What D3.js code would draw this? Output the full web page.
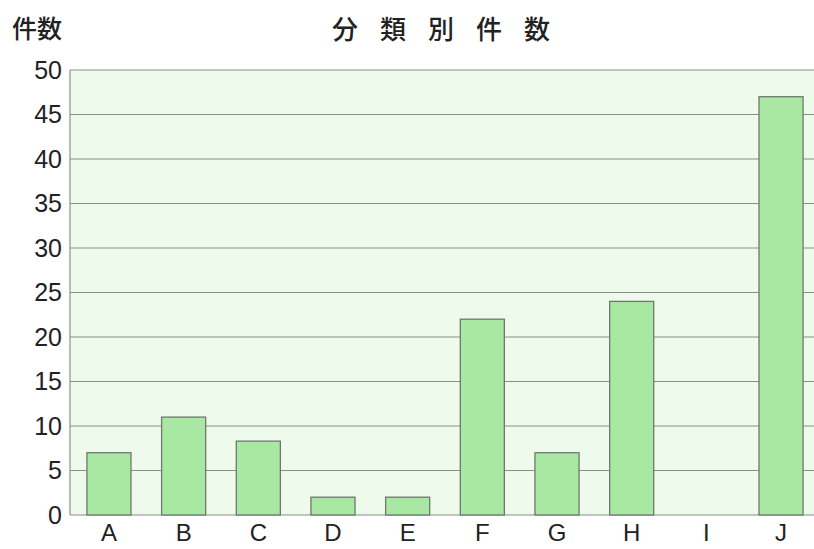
<!DOCTYPE html>
<html>
<head>
<meta charset="utf-8">
<script src="https://cdn.jsdelivr.net/npm/d3@7"></script>
<style>
  body { margin: 0; background: #fff; }
  text { font-family: "Noto Sans CJK JP", "Noto Sans", sans-serif; fill: #222; }
</style>
</head>
<body>
<div id="chart"></div>
<script>
// data
var categories = ["A", "B", "C", "D", "E", "F", "G", "H", "I", "J"];
var counts = [7, 11, 8.3, 2, 2, 22, 7, 24, 0, 47];
var yTicks = [0, 5, 10, 15, 20, 25, 30, 35, 40, 45, 50];

var width = 814, height = 549;
var margin = {top: 70, right: 0, bottom: 34, left: 70};

var svg = d3.select("#chart").append("svg")
      .attr("width", width)
      .attr("height", height);

var xScale = d3.scaleBand()
      .domain(categories)
      .range([72, 818])
      .paddingInner(0.41)
      .paddingOuter(0.2);

var yScale = d3.scaleLinear()
      .domain([0, 50])
      .range([height - margin.bottom, margin.top]);

// plot background
svg.append("rect")
  .attr("x", margin.left)
  .attr("y", yScale(50))
  .attr("width", width - margin.left)
  .attr("height", yScale(0) - yScale(50))
  .attr("fill", "#eefaeb");

// grid lines
svg.append("g").selectAll("line")
  .data(yTicks)
  .enter().append("line")
  .attr("x1", margin.left)
  .attr("x2", width)
  .attr("y1", function(d) { return yScale(d); })
  .attr("y2", function(d) { return yScale(d); })
  .attr("stroke", "#8a8f8a")
  .attr("stroke-width", 1.2);

// left axis line
svg.append("line")
  .attr("x1", margin.left).attr("x2", margin.left)
  .attr("y1", yScale(50)).attr("y2", yScale(0))
  .attr("stroke", "#8a8f8a")
  .attr("stroke-width", 1.2);

// bars
svg.append("g").selectAll("rect")
  .data(categories)
  .enter().append("rect")
  .attr("x", function(d) { return xScale(d); })
  .attr("width", xScale.bandwidth())
  .attr("y", function(d, i) { return yScale(counts[i]); })
  .attr("height", function(d, i) { return yScale(0) - yScale(counts[i]); })
  .attr("fill", "#a9e8a2")
  .attr("stroke", "#6f786f")
  .attr("stroke-width", 1.3)
  .style("display", function(d, i) { return counts[i] > 0 ? null : "none"; });

// y axis
var yAxis = d3.axisLeft(yScale)
      .tickValues(yTicks)
      .tickSize(0)
      .tickPadding(8);

svg.append("g")
  .attr("transform", "translate(" + margin.left + ",0)")
  .call(yAxis)
  .call(function(g) { g.select(".domain").remove(); })
  .selectAll("text")
  .style("font-family", "'Liberation Sans', Arial, sans-serif")
  .style("font-size", "25px")
  .attr("fill", "#222");

// x axis
var xAxis = d3.axisBottom(xScale)
      .tickSize(0)
      .tickPadding(9);

svg.append("g")
  .attr("transform", "translate(0," + yScale(0) + ")")
  .call(xAxis)
  .call(function(g) { g.select(".domain").remove(); })
  .selectAll("text")
  .style("font-family", "'Liberation Sans', Arial, sans-serif")
  .style("font-size", "24px")
  .attr("fill", "#222");

// title and axis label
svg.append("text")
  .attr("x", 452)
  .attr("y", 39)
  .attr("text-anchor", "middle")
  .style("font-size", "26px")
  .style("font-weight", "500")
  .style("letter-spacing", "22px")
  .text("分類別件数");

svg.append("text")
  .attr("x", 12)
  .attr("y", 38)
  .style("font-size", "25px")
  .style("font-weight", "500")
  .text("件数");
</script>
</body>
</html>
